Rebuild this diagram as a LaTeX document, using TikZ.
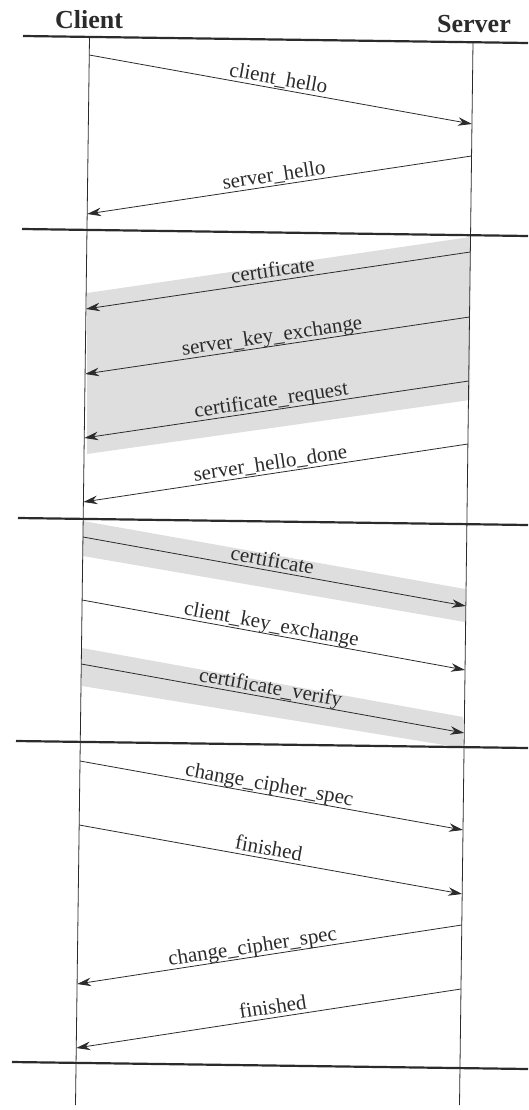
\documentclass[tikz,border=0pt]{standalone}
\usepackage{fontspec}
\setmainfont{Liberation Serif}
\usetikzlibrary{arrows.meta,calc}
\definecolor{ink}{HTML}{2B2B2B}
\definecolor{bandc}{HTML}{DEDEDE}
\begin{document}
\begin{tikzpicture}[x=1pt,y=-1pt,
  msg/.style={draw=ink, line width=0.8pt, -{Stealth[length=14pt,width=8.5pt,inset=4.5pt]}},
  lbl/.style={sloped, above, inner sep=3.5pt, text depth=0pt, font=\fontsize{21}{25}\selectfont, text=ink},
  sepline/.style={draw=ink, line width=2.2pt},
  life/.style={draw=ink, line width=0.8pt},
  head/.style={font=\fontsize{26}{30}\selectfont\bfseries, text=ink},
  shade/.style={fill=bandc, draw=none}]
\useasboundingbox (0,0) rectangle (528,1110);

% lifeline ends
\coordinate (ct) at (89.5,37);
\coordinate (cb) at (75.5,1105);
\coordinate (st) at (473,42);
\coordinate (sb) at (459.5,1105);

% message end points on the lifelines
\foreach \n/\cy/\sy in {1/55/124, 2/214/156, 3/309/252, 4/374/317, 5/438/381,
  6/502/444, 7/537/606, 8/600/670, 9/664/733, 10/761/830, 11/825/894,
  12/984/925, 13/1048/989}{
  \coordinate (c\n) at ($(ct)!{(\cy-37)/1068}!(cb)$);
  \coordinate (s\n) at ($(st)!{(\sy-42)/1063}!(sb)$);
}

% shaded bands
\path[shade] (470,237) -- (470,400) -- (87,454) -- (87,293) -- cycle;
\path[shade] (83,521) -- (465,589) -- (465,622) -- (83,556) -- cycle;
\path[shade] (82,648) -- (463,717) -- (463,748) -- (82,686) -- cycle;

% headers
\node[head] (client) at (89,20) {Client};
\node[head] (server) at (474,24) {Server};

% separators
\coordinate (l1) at (23,36);  \coordinate (r1) at (528,43);
\coordinate (l2) at (22,229); \coordinate (r2) at (528,236);
\coordinate (l3) at (18,518); \coordinate (r3) at (528,525);
\coordinate (l4) at (16,741); \coordinate (r4) at (528,748);
\coordinate (l5) at (12,1062); \coordinate (r5) at (528,1069);
\foreach \i in {1,...,5}{\draw[sepline] (l\i) -- (r\i);}

% lifelines
\draw[life] (ct) -- (cb);
\draw[life] (st) -- (sb);

% messages
\draw[msg] (c1) -- node[lbl,pos=0.49]{client\_hello} (s1);
\draw[msg] (s2) -- node[lbl,pos=0.51]{server\_hello} (c2);
\draw[msg] (s3) -- node[lbl,pos=0.51]{certificate} (c3);
\draw[msg] (s4) -- node[lbl,pos=0.51]{server\_key\_exchange} (c4);
\draw[msg] (s5) -- node[lbl,pos=0.51]{certificate\_request} (c5);
\draw[msg] (s6) -- node[lbl,pos=0.51]{server\_hello\_done} (c6);
\draw[msg] (c7) -- node[lbl,pos=0.49]{certificate} (s7);
\draw[msg] (c8) -- node[lbl,pos=0.49]{client\_key\_exchange} (s8);
\draw[msg] (c9) -- node[lbl,pos=0.49]{certificate\_verify} (s9);
\draw[msg] (c10) -- node[lbl,pos=0.49]{change\_cipher\_spec} (s10);
\draw[msg] (c11) -- node[lbl,pos=0.49]{finished} (s11);
\draw[msg] (s12) -- node[lbl,pos=0.54]{change\_cipher\_spec} (c12);
\draw[msg] (s13) -- node[lbl,pos=0.485]{finished} (c13);
\end{tikzpicture}
\end{document}
